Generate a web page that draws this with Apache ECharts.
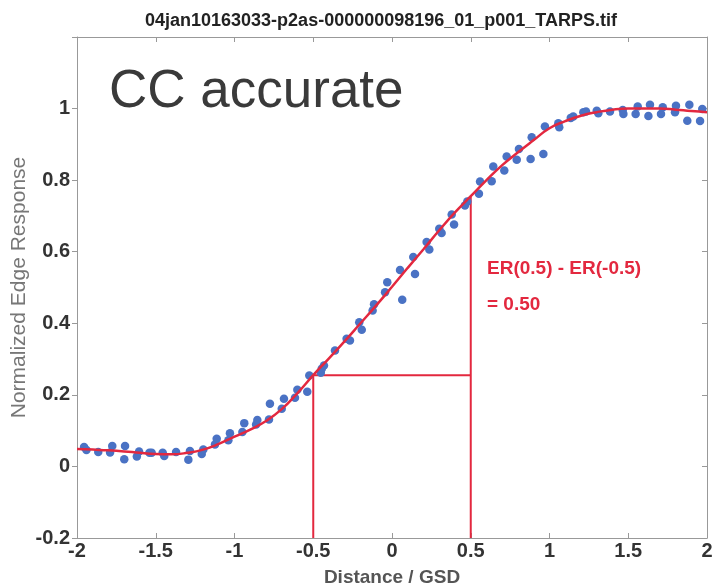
<!DOCTYPE html>
<html><head><meta charset="utf-8">
<script src="https://cdn.jsdelivr.net/npm/echarts@6/dist/echarts.min.js"></script>
<style>html,body{margin:0;padding:0;background:#fff}#c{width:712px;height:586px}</style>
</head><body><div id="c"></div>
<script>
const titleText = "04jan10163033-p2as-000000098196_01_p001_TARPS.tif";
const xTicks = [-2, -1.5, -1, -0.5, 0, 0.5, 1, 1.5, 2];
const yTicks = [-0.2, 0, 0.2, 0.4, 0.6, 0.8, 1];
const pointX = [-1.955,-1.94,-1.865,-1.79,-1.776,-1.70,-1.695,-1.62,-1.606,-1.54,-1.526,-1.456,-1.446,-1.371,-1.293,-1.283,-1.208,-1.198,-1.124,-1.113,-1.039,-1.029,-0.950,-0.938,-0.863,-0.855,-0.781,-0.775,-0.700,-0.686,-0.616,-0.601,-0.538,-0.525,-0.452,-0.446,-0.432,-0.362,-0.288,-0.267,-0.208,-0.192,-0.123,-0.114,-0.044,-0.030,0.051,0.065,0.135,0.146,0.220,0.237,0.300,0.315,0.379,0.394,0.463,0.478,0.552,0.559,0.633,0.643,0.713,0.728,0.792,0.806,0.880,0.887,0.961,0.971,1.056,1.062,1.135,1.151,1.215,1.232,1.300,1.310,1.384,1.465,1.469,1.547,1.560,1.628,1.638,1.708,1.719,1.797,1.803,1.875,1.888,1.956,1.970];
const pointY = [0.054,0.046,0.040,0.039,0.057,0.020,0.057,0.028,0.042,0.038,0.038,0.038,0.029,0.040,0.019,0.043,0.035,0.047,0.061,0.077,0.073,0.093,0.096,0.121,0.117,0.130,0.131,0.175,0.161,0.189,0.192,0.214,0.209,0.254,0.262,0.273,0.282,0.324,0.357,0.352,0.403,0.382,0.436,0.453,0.487,0.515,0.549,0.466,0.585,0.538,0.627,0.606,0.664,0.652,0.704,0.676,0.729,0.740,0.762,0.796,0.797,0.838,0.827,0.866,0.857,0.887,0.859,0.920,0.873,0.950,0.959,0.948,0.974,0.978,0.990,0.992,0.994,0.987,0.992,0.996,0.985,0.985,1.006,0.979,1.011,0.985,1.004,0.990,1.008,0.966,1.011,0.965,0.999];
const fitX = [-2,-1.9,-1.8,-1.7,-1.6,-1.5,-1.4,-1.3,-1.2,-1.1,-1,-0.9,-0.8,-0.7,-0.6,-0.5,-0.4,-0.3,-0.2,-0.1,0,0.1,0.2,0.3,0.4,0.5,0.6,0.7,0.8,0.9,1.0,1.1,1.2,1.3,1.4,1.5,1.6,1.7,1.8,1.9,2.0];
const fitY = [0.049,0.047,0.045,0.042,0.038,0.035,0.034,0.038,0.047,0.063,0.083,0.103,0.127,0.160,0.205,0.255,0.302,0.350,0.400,0.450,0.502,0.555,0.607,0.660,0.710,0.755,0.800,0.842,0.878,0.912,0.945,0.965,0.980,0.990,0.997,1.000,1.000,1.000,0.997,0.993,0.990];
const bracketX = [-0.5, -0.5, 0.5];
const bracketY = [-0.2, 0.255, 0.255];
const rightX = [0.5, 0.5];
const rightY = [-0.2, 0.755];
const annoLine1 = "ER(0.5) - ER(-0.5)";
const annoLine2 = "= 0.50";
const bigLabel = "CC accurate";

const zip = (a, b) => a.map((v, i) => [v, b[i]]);
const red = '#e3283f';
const FONT = 'Liberation Sans, Arial';
const axisCommon = (inside) => ({
  axisLine: {show: true, onZero: false, lineStyle: {color: '#999', width: 1}},
  axisTick: {show: true, inside: inside, length: 5, lineStyle: {color: '#999'}},
  splitLine: {show: false}
});
const chart = echarts.init(document.getElementById('c'));
chart.setOption({
  animation: false,
  backgroundColor: '#fff',
  title: {text: titleText, left: 376, top: 7, textAlign: 'center',
    textStyle: {fontFamily: FONT, fontWeight: 'bold', fontSize: 18, color: '#222'}},
  grid: {left: 77, right: 5, top: 37, bottom: 48, containLabel: false, outerBoundsMode: 'none'},
  xAxis: [
    Object.assign({type: 'value', min: -2, max: 2, interval: 0.5, position: 'bottom',
      name: 'Distance / GSD', nameLocation: 'middle', nameGap: 30, nameMoveOverlap: false,
      nameTextStyle: {fontFamily: FONT, fontWeight: 'bold', fontSize: 19, color: '#555'},
      axisLabel: {fontFamily: FONT, fontWeight: 'bold', fontSize: 20, color: '#333', margin: 3,
        formatter: v => xTicks.includes(v) ? String(v) : ''}}, axisCommon(true)),
    Object.assign({type: 'value', min: -2, max: 2, interval: 0.5, position: 'top', axisLabel: {show: false}}, axisCommon(true))
  ],
  yAxis: [
    Object.assign({type: 'value', min: -0.2, max: 1.2, interval: 0.2, position: 'left',
      name: 'Normalized Edge Response', nameLocation: 'middle', nameGap: 47, nameRotate: 90, nameMoveOverlap: false,
      nameTextStyle: {fontFamily: FONT, fontWeight: 'normal', fontSize: 21, color: '#777'},
      axisLabel: {fontFamily: FONT, fontWeight: 'bold', fontSize: 20, color: '#333', margin: 7,
        formatter: v => { const r = Math.round(v * 10) / 10; return yTicks.includes(r) ? String(r) : ''; }}}, axisCommon(false)),
    Object.assign({type: 'value', min: -0.2, max: 1.2, interval: 0.2, position: 'right', axisLabel: {show: false}}, axisCommon(true))
  ],
  graphic: [
    {type: 'text', left: 109, top: 66, style: {text: bigLabel, fontFamily: FONT, fontSize: 53, fill: '#3a3a3a'}},
    {type: 'text', left: 487, top: 259, style: {text: annoLine1, fontFamily: FONT, fontWeight: 'bold', fontSize: 19, fill: red}},
    {type: 'text', left: 487, top: 295, style: {text: annoLine2, fontFamily: FONT, fontWeight: 'bold', fontSize: 19, fill: red}}
  ],
  series: [
    {type: 'line', data: zip(bracketX, bracketY), symbol: 'none', lineStyle: {color: red, width: 2}, z: 3},
    {type: 'line', data: zip(rightX, rightY), symbol: 'none', lineStyle: {color: red, width: 2}, z: 3},
    {type: 'scatter', data: zip(pointX, pointY), symbolSize: 8.5, itemStyle: {color: '#4a72c4', opacity: 1}, z: 4},
    {type: 'line', data: zip(fitX, fitY), smooth: true, symbol: 'none', lineStyle: {color: red, width: 2.5}, z: 5}
  ]
});
</script></body></html>
